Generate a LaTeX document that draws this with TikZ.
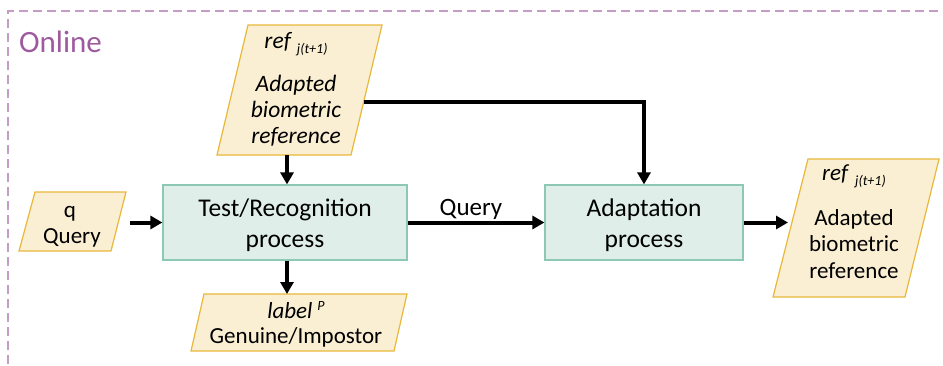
\documentclass[tikz,border=0pt]{standalone}
\usepackage{fontspec}
\setmainfont{Carlito}
\usetikzlibrary{arrows.meta,calc}

\definecolor{frameviolet}{HTML}{C59CC6}
\definecolor{onlineviolet}{HTML}{9E5A9E}
\definecolor{datafill}{HTML}{FAEFD3}
\definecolor{dataline}{HTML}{E8B83A}
\definecolor{procfill}{HTML}{DFEEE9}
\definecolor{procline}{HTML}{8CC8B2}

% reference symbol with its lowered index, and the predicted label symbol
\newcommand\refsym{\textit{ref}\hspace{6pt}\raisebox{-5pt}{\fontsize{14}{14}\selectfont\itshape j(t+1)}}
\newcommand\labelsym{\textit{label}\hspace{5pt}\raisebox{8pt}{\fontsize{14}{14}\selectfont\itshape P}}

\tikzset{
  databox/.style={fill=datafill, draw=dataline, line width=1.2pt},
  procbox/.style={rectangle, fill=procfill, draw=procline, line width=1.2pt, inner sep=0pt},
  proctext/.style={anchor=base, inner sep=0pt, font=\fontsize{25.5}{31}\selectfont},
  datatext/.style={anchor=base, inner sep=0pt, font=\fontsize{23}{26}\selectfont},
  italtext/.style={anchor=base, inner sep=0pt, font=\fontsize{23.5}{26}\selectfont\itshape},
  flow/.style={line width=4pt, -{Triangle[length=12pt,width=13pt]}},
}

\begin{document}
\begin{tikzpicture}[x=1pt,y=-1pt]
\useasboundingbox (0,0) rectangle (943,365);

% dashed frame of the online phase
\draw[frameviolet, line width=1.5pt, dash pattern=on 9pt off 5pt]
  (952,11) -- (8,11) -- (8,374);
\node[anchor=base west, inner sep=0pt, text=onlineviolet,
  font=\fontsize{31}{31}\selectfont] (online) at (19,52) {Online};

% data parallelograms
\filldraw[databox] (248,25) -- (382,25) -- (351,155) -- (217,155) -- cycle;
\filldraw[databox] (35,192) -- (126,192) -- (111,251) -- (19,251) -- cycle;
\filldraw[databox] (204,294) -- (407,294) -- (394,351) -- (191,351) -- cycle;
\filldraw[databox] (808,159) -- (939,159) -- (905,297) -- (773,297) -- cycle;

% processes
\node[procbox, minimum width=244pt, minimum height=75pt] (test) at (285,222.5) {};
\node[proctext] (test0) at (285,216) {Test/Recognition};
\node[proctext] (test1) at (285,247) {process};
\node[procbox, minimum width=198pt, minimum height=75pt] (adapt) at (644,222.5) {};
\node[proctext] (adapt0) at (644,216) {Adaptation};
\node[proctext] (adapt1) at (644,247) {process};

% adapted reference used as input
\node[italtext] (refin0) at (296,48) {\refsym};
\node[italtext] (refin1) at (296,91) {Adapted};
\node[italtext] (refin2) at (296,117) {biometric};
\node[italtext] (refin3) at (296,143) {reference};

% query sample
\node[datatext] (q0) at (70,217) {q};
\node[datatext] (q1) at (72,243) {Query};

% decision
\node[datatext] (lab0) at (296,318) {\labelsym};
\node[datatext] (lab1) at (296,343) {Genuine/Impostor};

% adapted reference produced
\node[datatext] (refout0) at (854,180) {\refsym};
\node[datatext] (refout1) at (854,225) {Adapted};
\node[datatext] (refout2) at (854,251) {biometric};
\node[datatext] (refout3) at (854,278) {reference};

% connector ends on the parallelogram edges
\coordinate (refinS) at (287,155);
\coordinate (refinE) at (364,102);
\coordinate (qE) at (130,222.5);
\coordinate (labN) at (287,294);
\coordinate (refoutW) at (788,222.5);

% connectors
\draw[flow] (refinS) -- (refinS |- test.north);
\draw[flow] (qE) -- (test.west);
\draw[flow] (test.south -| labN) -- (labN);
\draw[flow] (test.east) -- (adapt.west);
\node[anchor=base, inner sep=0pt, font=\fontsize{25}{25}\selectfont] (qlabel) at (471,215) {Query};
\draw[flow] (adapt.east) -- (refoutW);
\draw[flow] (refinE) -| (adapt.north);
\end{tikzpicture}
\end{document}
